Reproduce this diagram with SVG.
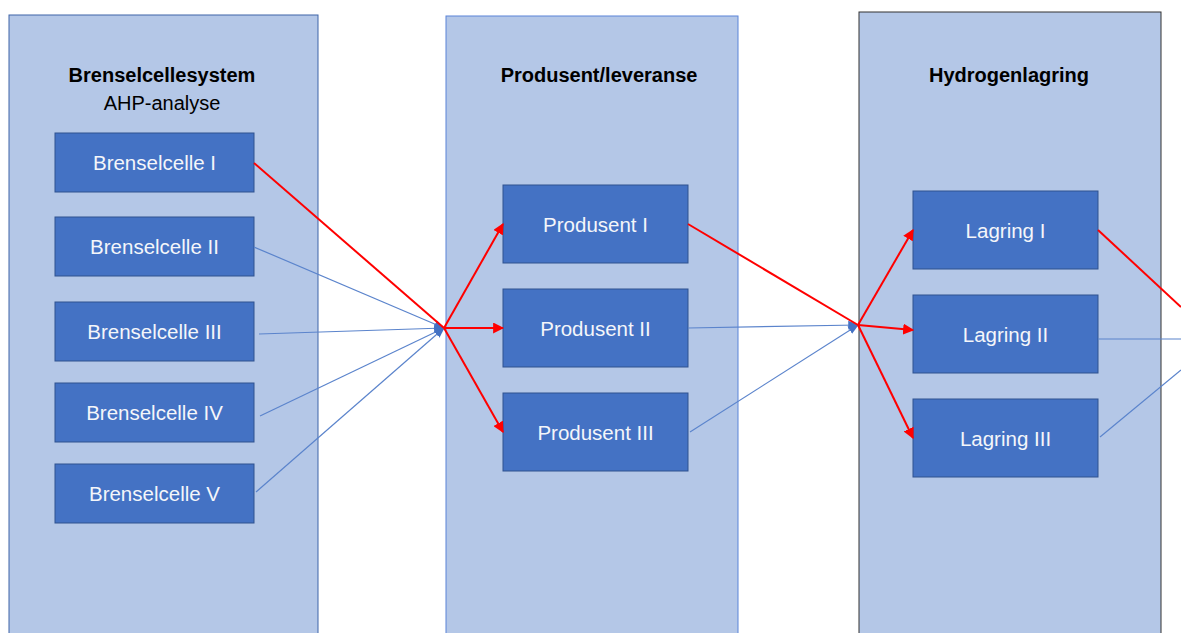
<svg xmlns="http://www.w3.org/2000/svg" width="1181" height="633" viewBox="0 0 1181 633">
<defs>
<style>
.panel{fill:#B4C7E7;stroke:#4472C4;stroke-width:1}
.box{fill:#4472C4;stroke:#2F528F;stroke-width:1}
.lbl{font-family:"Liberation Sans",Arial,sans-serif;font-size:20.5px;fill:#F4F6FA;text-anchor:middle;dominant-baseline:central}
.ttl{font-family:"Liberation Sans",Arial,sans-serif;font-size:20px;font-weight:bold;fill:#000000;text-anchor:middle}
.sub{font-family:"Liberation Sans",Arial,sans-serif;font-size:20px;fill:#000000;text-anchor:middle}
.red{stroke:#FF0000;stroke-width:2;fill:none}
.blue{stroke:#5B84CC;stroke-width:1.2;fill:none}
</style>
<marker id="ar" viewBox="0 0 10 10" refX="9" refY="5" markerWidth="5.5" markerHeight="5.5" orient="auto" markerUnits="strokeWidth">
<path d="M0,0 L10,5 L0,10 z" fill="#FF0000"/>
</marker>
<marker id="ab" viewBox="0 0 10 10" refX="9" refY="5" markerWidth="9" markerHeight="9" orient="auto" markerUnits="strokeWidth">
<path d="M0,1 L10,5 L0,9 z" fill="#4472C4"/>
</marker>
</defs>
<rect width="1181" height="633" fill="#FFFFFF"/>
<g id="panel-brenselcellesystem">
<rect class="panel" x="9" y="15" width="309" height="630" style="stroke:#3E64A8"/>
<text class="ttl" x="162" y="82">Brenselcellesystem</text>
<text class="sub" x="162" y="110">AHP-analyse</text>
</g>
<g id="panel-produsent">
<rect class="panel" x="446" y="16" width="292" height="630" style="stroke:#5B84D8"/>
<text class="ttl" x="599" y="82">Produsent/leveranse</text>
</g>
<g id="panel-hydrogenlagring">
<rect class="panel" x="859" y="12" width="302" height="630" style="stroke:#333333"/>
<text class="ttl" x="1009" y="82">Hydrogenlagring</text>
</g>
<g id="bc1"><rect class="box" x="55" y="133" width="199" height="59"/><text class="lbl" x="154.5" y="162.5">Brenselcelle I</text></g>
<g id="bc2"><rect class="box" x="55" y="217" width="199" height="59"/><text class="lbl" x="154.5" y="246.5">Brenselcelle II</text></g>
<g id="bc3"><rect class="box" x="55" y="302" width="199" height="59"/><text class="lbl" x="154.5" y="331.5">Brenselcelle III</text></g>
<g id="bc4"><rect class="box" x="55" y="383" width="199" height="59"/><text class="lbl" x="154.5" y="412.5">Brenselcelle IV</text></g>
<g id="bc5"><rect class="box" x="55" y="464" width="199" height="59"/><text class="lbl" x="154.5" y="493.5">Brenselcelle V</text></g>
<g id="p1"><rect class="box" x="503" y="185" width="185" height="78"/><text class="lbl" x="595.5" y="224">Produsent I</text></g>
<g id="p2"><rect class="box" x="503" y="289" width="185" height="78"/><text class="lbl" x="595.5" y="328">Produsent II</text></g>
<g id="p3"><rect class="box" x="503" y="393" width="185" height="78"/><text class="lbl" x="595.5" y="432">Produsent III</text></g>
<g id="l1"><rect class="box" x="913" y="191" width="185" height="78"/><text class="lbl" x="1005.5" y="230">Lagring I</text></g>
<g id="l2"><rect class="box" x="913" y="295" width="185" height="78"/><text class="lbl" x="1005.5" y="334">Lagring II</text></g>
<g id="l3"><rect class="box" x="913" y="399" width="185" height="78"/><text class="lbl" x="1005.5" y="438">Lagring III</text></g>
<g id="connectors">
<line class="blue" x1="254" y1="247" x2="444" y2="328" marker-end="url(#ab)"/>
<line class="blue" x1="259" y1="334" x2="444" y2="328" marker-end="url(#ab)"/>
<line class="blue" x1="260" y1="416" x2="444" y2="328" marker-end="url(#ab)"/>
<line class="blue" x1="256" y1="492" x2="444" y2="328" marker-end="url(#ab)"/>
<line class="red" x1="254" y1="163" x2="444" y2="328"/>
<line class="red" x1="444" y1="328" x2="503" y2="224" marker-end="url(#ar)"/>
<line class="red" x1="444" y1="328" x2="503" y2="328" marker-end="url(#ar)"/>
<line class="red" x1="444" y1="328" x2="503" y2="432" marker-end="url(#ar)"/>
<line class="blue" x1="688" y1="328" x2="858" y2="325" marker-end="url(#ab)"/>
<line class="blue" x1="690" y1="432" x2="858" y2="325" marker-end="url(#ab)"/>
<line class="red" x1="688" y1="224" x2="858" y2="325"/>
<line class="red" x1="858" y1="325" x2="913" y2="230" marker-end="url(#ar)"/>
<line class="red" x1="858" y1="325" x2="913" y2="330" marker-end="url(#ar)"/>
<line class="red" x1="858" y1="325" x2="913" y2="438" marker-end="url(#ar)"/>
<line class="red" x1="1098" y1="230" x2="1181" y2="307"/>
<line class="blue" x1="1098" y1="339" x2="1181" y2="339"/>
<line class="blue" x1="1100" y1="437" x2="1181" y2="370"/>
</g>
</svg>
